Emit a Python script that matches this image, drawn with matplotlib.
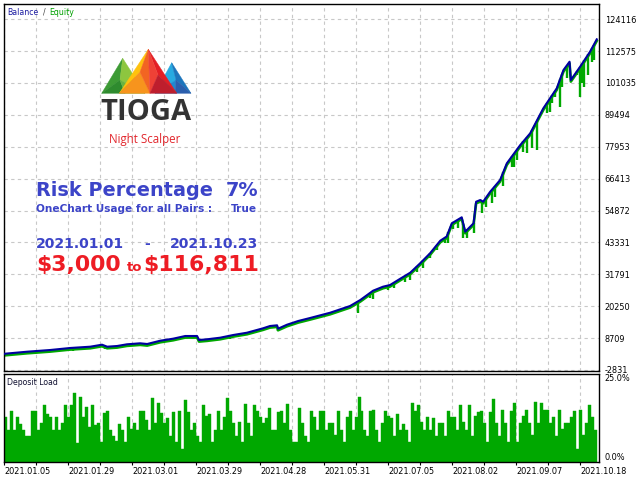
import numpy as np
import matplotlib
matplotlib.use("Agg")
import matplotlib.pyplot as plt
import matplotlib.transforms as mtransforms
from matplotlib.patches import Polygon

# ── Data ─────────────────────────────────────────────────────────────────────
# x axis = tester time index (one unit per vertical grid line)
bal_x = [-1.03, -0.28, 0.44, 1.06, 1.69, 2.06, 2.22, 2.53, 2.84, 3.25, 3.47,
         3.88, 4.28, 4.66, 5.03, 5.09, 5.34, 5.75, 6.16, 6.59, 7.09, 7.31,
         7.53, 7.56, 7.84, 8.19, 8.56, 9.19, 9.81, 10.13, 10.53, 10.84, 11.06,
         11.38, 11.69, 12.00, 12.31, 12.63, 12.83, 12.99, 13.30, 13.41, 13.67,
         13.75, 13.88, 13.97, 14.19, 14.50, 14.71, 15.13, 15.44, 15.85, 16.27,
         16.48, 16.67, 16.71, 17.00, 17.31, 17.52]
bal_y = [3000, 3790, 4405, 5129, 5599, 6323, 5599, 5852, 6467, 6829, 6576,
         7770, 8493, 9470, 9470, 8023, 8276, 8855, 9832, 10664, 12256, 13088,
         13341, 12111, 13559, 14897, 15983, 17900, 20324, 22495, 25860, 27307,
         27922, 30201, 32372, 35773, 39391, 43950, 45469, 50245, 52416, 47206,
         50245, 58060, 58675, 58060, 61678, 65911, 71953, 78574, 82807, 91852,
         99088, 105709, 108712, 102091, 106903, 112330, 116811]

# equity drawdown wicks (position, lowest equity)
eq_x = [1.16, 2.16, 3.25, 5.34, 6.06, 7.56, 9.40, 10.07, 10.44, 10.54, 11.01,
        11.17, 11.53, 11.69, 11.90, 12.10, 12.31, 12.52, 12.78, 12.88, 13.04,
        13.17, 13.35, 13.48, 13.67, 13.93, 14.06, 14.24, 14.34, 14.60, 14.87,
        14.92, 15.02, 15.23, 15.33, 15.49, 15.65, 15.96, 16.06, 16.12, 16.22,
        16.38, 16.43, 16.58, 16.90, 17.00, 17.05, 17.13, 17.26, 17.37, 17.42]
eq_low = [4043, 4767, 5852, 7299, 8385, 11388, 17683, 17900, 23110, 22748,
          26113, 26728, 29117, 29731, 32734, 33964, 37582, 40585, 43009, 43009,
          48074, 48436, 44818, 44818, 46627, 53863, 56251, 57698, 59869, 63740,
          70723, 70725, 73147, 76150, 75573, 77380, 76765, 90043, 90624, 93661,
          96049, 92215, 99669, 102706, 103900, 96049, 101006, 99669, 103900,
          108712, 109327]

# deposit load, %
load_pct = [
    12.7, 9, 14.4, 9, 12.7, 10.7, 9, 7.3, 7.3, 14.6, 14.6, 9, 11, 16.1, 13.5,
    12.7, 9, 12.7, 9, 11, 16.2, 12.7, 16.1, 19.7, 5.4, 18.4, 12.7, 15.5, 10,
    16.3, 10.5, 11, 5.8, 13.9, 14.4, 9, 7.3, 6, 10.8, 9, 5.6, 12.7, 9.5, 11, 9,
    14.6, 14.6, 12, 9,
    18.2, 11, 16.8, 14, 11, 12.5, 7.3, 14.3, 5.7, 14.6, 3.7, 17.6, 14.3, 9.2,
    11, 7.3, 5.7, 16.3, 13.2, 13.5, 5.7, 9.2, 14.6, 9, 12.9, 18.2, 14.6, 11,
    7.3, 11.3, 5.7, 16.4, 11, 7.3, 16.3, 14.6, 12.9, 11, 12.5, 15.2, 9.2, 9.2,
    14.3, 14.4, 11, 16.4, 9.2, 5.7, 5.7, 15.2,
    11, 7.3, 5.7, 14.6, 12.9, 9.2, 14.6, 14.6, 9.2, 11, 11, 7.6, 14.6, 9.2,
    5.7, 12.9, 14.6, 9.2, 12.9, 18.5, 14.6, 9.2, 7.3, 14.6, 14.9, 9.2, 5.7, 11,
    14.6, 13.2, 12.5, 7.3, 13.5, 9.2, 10.8, 9.2, 5.7, 16.7, 14.6, 16.3, 11.3,
    9.2, 12.9, 9.2, 12.5, 7.3, 11, 11, 7.3, 14.6,
    12.7, 12.9, 9, 16.3, 11.3, 9.2, 16.3, 7.3, 13.2, 14.3, 14.6, 11, 5.7, 14.3,
    18, 11, 7.3, 14.9, 11, 5.7, 14.6, 16.7, 5.7, 11, 13.2, 14.9, 11, 7.6, 17.1,
    11, 16.8, 14.8, 14.8, 11, 12.9, 7.3, 14.9, 9.4, 11, 11, 12.9, 14.6, 3.7,
    14.9, 7.6, 11, 16.3, 12.9, 9.2]

y_ticks = [124116, 112575, 101035, 89494, 77953, 66413, 54872, 43331, 31791,
           20250, 8709, -2831]
date_labels = ["2021.01.05", "2021.01.29", "2021.03.01", "2021.03.29",
               "2021.04.28", "2021.05.31", "2021.07.05", "2021.08.02",
               "2021.09.07", "2021.10.18"]

# ── Styles ───────────────────────────────────────────────────────────────────
BLUE_LINE = "#0000a0"
GREEN = "#00a800"
GRID = dict(color="#c8c8c8", linestyle=(0, (3, 3)), linewidth=0.8)
TXT_BLUE = "#3c44c8"
TXT_RED = "#ee1c24"
TICK_SIZE = 5.9

W, H = 640, 480
fig = plt.figure(figsize=(6.4, 4.8), dpi=100)


def box(x0, y0, x1, y1):
    """pixel box (top-left origin) -> figure fraction rect"""
    return [x0 / W, 1 - y1 / H, (x1 - x0) / W, (y1 - y0) / H]


def fx(x):
    return x / W


def fy(y):
    return 1 - y / H


# ── Main panel: balance / equity ─────────────────────────────────────────────
ax = fig.add_axes(box(3.5, 4, 599, 371))
ax.set_xlim(-1.02, 17.59)
ax.set_ylim(-3193, 129600)
ax.set_xticks(range(-1, 18))
ax.set_yticks(y_ticks, [str(v) for v in y_ticks])
ax.grid(True, **GRID)
ax.set_axisbelow(True)
ax.tick_params(axis="x", length=0, labelbottom=False)
ax.yaxis.tick_right()
ax.tick_params(axis="y", length=0, pad=4, labelsize=TICK_SIZE)
for sp in ax.spines.values():
    sp.set_color("black")
    sp.set_linewidth(1.0)

shift = mtransforms.offset_copy(ax.transData, fig=fig, y=-1.6, units="dots")
ax.plot(bal_x, bal_y, color=GREEN, lw=1.9, transform=shift, zorder=2)
ax.vlines(eq_x, eq_low, np.interp(eq_x, bal_x, bal_y), color=GREEN, lw=1.7,
          zorder=2)
ax.plot(bal_x, bal_y, color=BLUE_LINE, lw=1.5, zorder=3)

ax.text(0.006, 0.978, "Balance", transform=ax.transAxes, color="#1a1aa0",
        fontsize=5.6, va="center")
ax.text(0.0655, 0.978, "/", transform=ax.transAxes, color="#404040",
        fontsize=5.6, va="center")
ax.text(0.076, 0.978, "Equity", transform=ax.transAxes, color="#00a000",
        fontsize=5.6, va="center")

# ── Lower panel: deposit load ────────────────────────────────────────────────
ax2 = fig.add_axes(box(3.5, 374, 599, 462))
ax2.set_xlim(-1.02, 17.59)
ax2.set_ylim(0, 25)
edges = np.linspace(-1.0, 17.53, len(load_pct) + 1)
ax2.bar(edges[:-1], load_pct, width=np.diff(edges), align="edge",
        color=GREEN, edgecolor=GREEN, linewidth=0.3, zorder=2)
ax2.set_xticks(range(-1, 18))
xlabels = [date_labels[(k + 1) // 2] if (k + 1) % 2 == 0 else ""
           for k in range(-1, 18)]
ax2.set_xticklabels(xlabels)
for lab in ax2.get_xticklabels():
    lab.set_ha("left")
ax2.tick_params(axis="x", length=2, pad=1.5, labelsize=TICK_SIZE)
ax2.xaxis.grid(True, **GRID)
ax2.set_axisbelow(True)
ax2.yaxis.tick_right()
ax2.set_yticks([0, 25], ["0.0%", "25.0%"])
ax2.tick_params(axis="y", length=0, pad=4, labelsize=TICK_SIZE)
ylabs = ax2.get_yticklabels()
ylabs[0].set_va("bottom")
ylabs[1].set_va("top")
for sp in ax2.spines.values():
    sp.set_color("black")
    sp.set_linewidth(1.0)
ax2.text(0.006, 0.9, "Deposit Load", transform=ax2.transAxes, color="#101030",
         fontsize=5.6, va="center")

# ── TIOGA logo ───────────────────────────────────────────────────────────────
lax = fig.add_axes(box(90, 40, 205, 150))
lax.set_xlim(90, 205)
lax.set_ylim(150, 40)
lax.axis("off")

facets = [
    # green mountain
    ([(101.7, 93.3), (122.7, 58.3), (120, 80)], "#3d9b35"),
    ([(122.7, 58.3), (145, 93.3), (120, 80)], "#8dc63f"),
    ([(101.7, 93.3), (120, 80), (125, 93.3)], "#2e8b2e"),
    ([(120, 80), (145, 93.3), (125, 93.3)], "#6cb33f"),
    # blue mountain
    ([(155, 93.3), (171.7, 62.7), (176, 80)], "#27aae1"),
    ([(171.7, 62.7), (191, 93.3), (176, 80)], "#1c75bc"),
    ([(155, 93.3), (176, 80), (175, 93.3)], "#1e88d0"),
    ([(176, 80), (191, 93.3), (175, 93.3)], "#2b5fad"),
    # central mountain
    ([(119.3, 93.3), (148.3, 49.3), (140, 72)], "#ffc20e"),
    ([(119.3, 93.3), (140, 72), (150, 93.3)], "#f7941d"),
    ([(140, 72), (148.3, 49.3), (150, 93.3)], "#f26522"),
    ([(148.3, 49.3), (158, 75), (176.7, 93.3)], "#e31e24"),
    ([(148.3, 49.3), (158, 75), (150, 93.3)], "#ef4136"),
    ([(158, 75), (176.7, 93.3), (150, 93.3)], "#be1e2d"),
]
for pts, col in facets:
    lax.add_patch(Polygon(pts, closed=True, facecolor=col, edgecolor=col,
                          linewidth=0.3))
lax.text(145.5, 112, "TIOGA", ha="center", va="center", fontsize=21,
         fontweight="bold", family="Open Sans", color="#333333")
lax.text(145, 140, "Night Scalper", ha="center", va="center", fontsize=8.3,
         family="Open Sans", color="#e2262c")

# ── Text block ───────────────────────────────────────────────────────────────
bold = dict(family="DejaVu Sans", fontweight="bold", va="baseline")
fig.text(fx(36), fy(196), "Risk Percentage", fontsize=13.9, color=TXT_BLUE,
         **bold)
fig.text(fx(258), fy(196), "7%", fontsize=13.9, color=TXT_BLUE, ha="right",
         **bold)
fig.text(fx(36), fy(212.5), "OneChart Usage for all Pairs :", fontsize=7.6,
         color=TXT_BLUE, **bold)
fig.text(fx(257), fy(212.5), "True", fontsize=7.6, color=TXT_BLUE, ha="right",
         **bold)
fig.text(fx(36), fy(248), "2021.01.01", fontsize=10.1, color=TXT_BLUE, **bold)
fig.text(fx(147), fy(248), "-", fontsize=10.1, color=TXT_BLUE, ha="center",
         **bold)
fig.text(fx(258), fy(248), "2021.10.23", fontsize=10.1, color=TXT_BLUE,
         ha="right", **bold)
fig.text(fx(36), fy(271), "$3,000", fontsize=15.8, color=TXT_RED, **bold)
fig.text(fx(135), fy(271), "to", fontsize=9.5, color=TXT_RED, ha="center",
         **bold)
fig.text(fx(259), fy(271), "$116,811", fontsize=15.8, color=TXT_RED,
         ha="right", **bold)

fig.savefig("out.png", dpi=100)
